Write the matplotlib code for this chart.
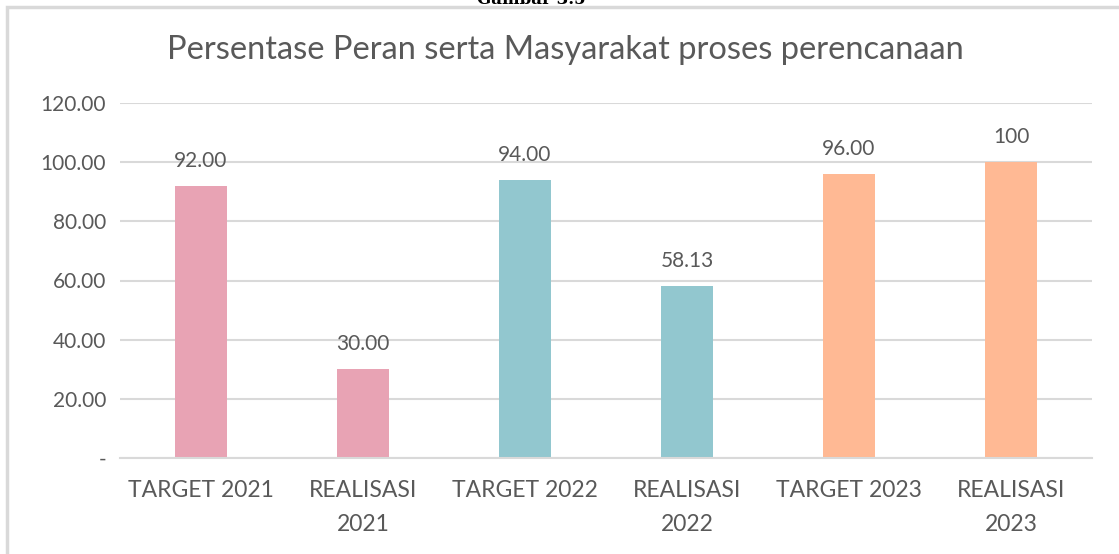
import numpy as np
import matplotlib.pyplot as plt
from matplotlib.patches import Rectangle

# datos del grafico
kategori = ["TARGET 2021", "REALISASI\n2021", "TARGET 2022", "REALISASI\n2022", "TARGET 2023", "REALISASI\n2023"]
nilai = [92.00, 30.00, 94.00, 58.13, 96.00, 100]
label_nilai = ["92.00", "30.00", "94.00", "58.13", "96.00", "100"]
warna = ["#E8A3B4", "#E8A3B4", "#92C7CF", "#92C7CF", "#FFB994", "#FFB994"]
y_ticks = [0, 20, 40, 60, 80, 100, 120]
y_ticklabels = ["-", "20.00", "40.00", "60.00", "80.00", "100.00", "120.00"]

gris = "#595959"
plt.rcParams['font.family'] = ['Lato', 'DejaVu Sans']

fig = plt.figure(figsize=(11.19, 5.54), dpi=100)

# borde del area del grafico
fig.patches.append(Rectangle((7/1119, -0.1), 1.2, 1 - 7/554 + 0.1, transform=fig.transFigure,
                             fill=False, edgecolor="#D9D9D9", linewidth=2.5))
fig.text(0.475, 1.0, "Gambar 3.5", family="DejaVu Serif", fontsize=12, fontweight="bold",
         ha="center", va="center", color="black")

ax = fig.add_axes([120/1119, 1 - 458/554, 972/1119, 355/554])
x = np.arange(len(kategori))
ax.bar(x, nilai, width=0.315, color=warna, zorder=2)

for xi, v, lab in zip(x, nilai, label_nilai):
    ax.text(xi, v + 5, lab, ha="center", va="bottom", fontsize=15, color=gris)

ax.set_xlim(-0.5, len(kategori) - 0.5)
ax.set_ylim(0, 120)
ax.set_yticks(y_ticks)
ax.set_yticklabels(y_ticklabels, fontsize=15, color=gris)
ax.set_xticks(x)
ax.set_xticklabels(kategori, fontsize=16.5, color=gris, linespacing=1.75)
ax.tick_params(axis="both", length=0, pad=10)
ax.tick_params(axis="x", pad=16)
ax.grid(axis="y", color="#D9D9D9", linewidth=1.5, zorder=0)
for s in ["top", "right", "left"]:
    ax.spines[s].set_visible(False)
ax.spines["bottom"].set_color("#D9D9D9")
ax.spines["bottom"].set_linewidth(1.5)

fig.text(0.505, 0.91, "Persentase Peran serta Masyarakat proses perencanaan",
         ha="center", va="center", fontsize=23.5, color=gris)

fig.savefig("out.png", dpi=100)
